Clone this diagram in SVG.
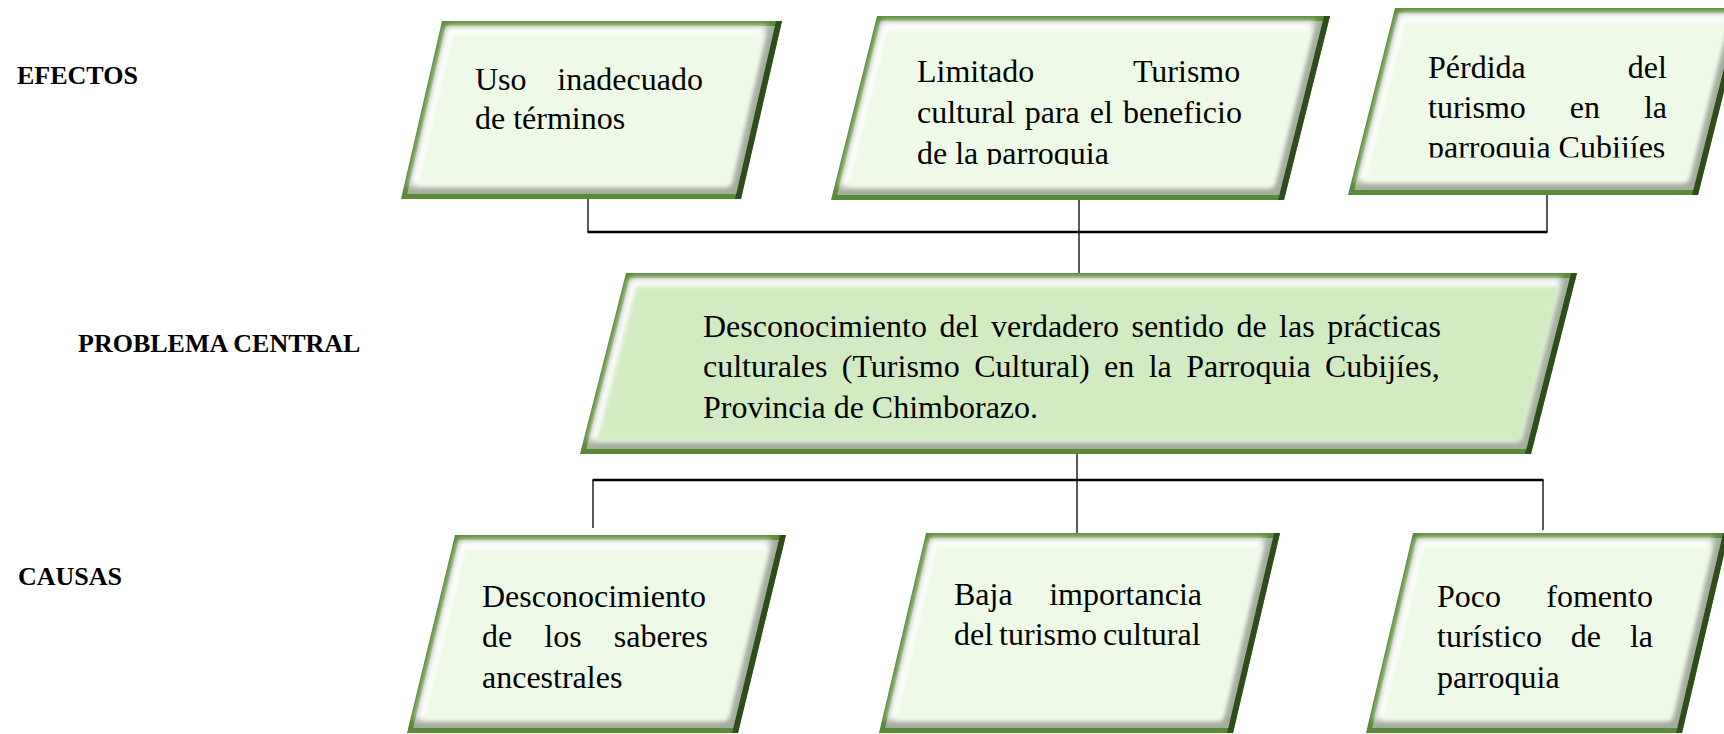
<svg xmlns="http://www.w3.org/2000/svg" width="1724" height="734" viewBox="0 0 1724 734">
<defs>
  <filter id="b2" x="-10%" y="-10%" width="120%" height="120%"><feGaussianBlur stdDeviation="2"/></filter>
  <filter id="b3" x="-10%" y="-10%" width="120%" height="120%"><feGaussianBlur stdDeviation="3"/></filter>
  <clipPath id="clip2"><rect x="800" y="0" width="600" height="165"/></clipPath>
  <clipPath id="clip3"><rect x="1340" y="0" width="384" height="157.5"/></clipPath>
</defs>
<style>
  .rim{fill:#5a8a37}
  .rimd{fill:#2f4c1c}
  .shade{fill:#a3ad9c}
  .hl{fill:#ffffff;filter:url(#b3)}
  .face{fill:#eefae7;filter:url(#b2)}
  .facec{fill:#d3ebc3;filter:url(#b2)}
  .t{font-family:"Liberation Serif","Times New Roman",serif;font-size:32px;fill:#000}
  .lbl{font-family:"Liberation Serif","Times New Roman",serif;font-size:26px;font-weight:bold;fill:#000}
  .c{stroke:#000;stroke-width:1.3;fill:none}
  .bus{stroke:#000;stroke-width:2.5;fill:none}
</style>
<rect width="1724" height="734" fill="#ffffff"/>

<g id="labels">
  <text class="lbl" x="17" y="84">EFECTOS</text>
  <text class="lbl" x="78" y="352">PROBLEMA CENTRAL</text>
  <text class="lbl" x="18" y="585">CAUSAS</text>
</g>

<g id="connectors">
  <line class="c" x1="588" y1="199" x2="588" y2="232"/>
  <line class="c" x1="1547" y1="195" x2="1547" y2="232"/>
  <line class="c" x1="1079" y1="200" x2="1079" y2="275"/>
  <line class="bus" x1="587.5" y1="232" x2="1547.5" y2="232"/>
  <line class="c" x1="1077" y1="452" x2="1077" y2="535"/>
  <line class="bus" x1="592.5" y1="480" x2="1543.5" y2="480"/>
  <line class="c" x1="593" y1="480" x2="593" y2="528"/>
  <line class="c" x1="1543" y1="480" x2="1543" y2="530"/>
</g>

<g id="efecto-1">
  <g transform="translate(401,199) skewX(-12.97)">
    <rect class="rim" x="0" y="-178" width="340" height="178"/>
    <rect class="rimd" x="334" y="-178" width="6" height="178"/>
    <rect class="shade" x="5" y="-173" width="329" height="168"/>
    <rect class="hl" x="5" y="-173" width="321" height="160"/>
    <rect class="face" x="13" y="-165" width="313" height="152"/>
  </g>
  <text class="t" x="475" y="90" style="word-spacing:22.7px">Uso inadecuado</text>
  <text class="t" x="475" y="129">de términos</text>
</g>

<g id="efecto-2">
  <g transform="translate(831,200) skewX(-14.04)">
    <rect class="rim" x="0" y="-184" width="453" height="184"/>
    <rect class="rimd" x="447" y="-184" width="6" height="184"/>
    <rect class="shade" x="5" y="-179" width="442" height="174"/>
    <rect class="hl" x="5" y="-179" width="434" height="166"/>
    <rect class="face" x="13" y="-171" width="426" height="158"/>
  </g>
  <g clip-path="url(#clip2)">
    <text class="t" x="917" y="82" style="word-spacing:91.2px">Limitado Turismo</text>
    <text class="t" x="917" y="123" style="word-spacing:2px">cultural para el beneficio</text>
    <text class="t" x="917" y="164">de la parroquia</text>
  </g>
</g>

<g id="efecto-3">
  <g transform="translate(1348,195) skewX(-14.11)">
    <rect class="rim" x="0" y="-187" width="350" height="187"/>
    <rect class="rimd" x="344" y="-187" width="6" height="187"/>
    <rect class="shade" x="5" y="-182" width="339" height="177"/>
    <rect class="hl" x="5" y="-182" width="331" height="169"/>
    <rect class="face" x="13" y="-174" width="323" height="161"/>
  </g>
  <g clip-path="url(#clip3)">
    <text class="t" x="1428" y="78" style="word-spacing:94.1px">Pérdida del</text>
    <text class="t" x="1428" y="118" style="word-spacing:35.95px">turismo en la</text>
    <text class="t" x="1428" y="158">parroquia Cubijíes</text>
  </g>
</g>

<g id="problema-central">
  <g transform="translate(580,454) skewX(-14.26)">
    <rect class="rim" x="0" y="-181" width="951" height="181"/>
    <rect class="rimd" x="945" y="-181" width="6" height="181"/>
    <rect class="shade" x="5" y="-176" width="940" height="171"/>
    <rect class="hl" x="5" y="-176" width="932" height="163"/>
    <rect class="facec" x="13" y="-168" width="924" height="155"/>
  </g>
  <text class="t" x="703" y="337" style="word-spacing:4.5px">Desconocimiento del verdadero sentido de las prácticas</text>
  <text class="t" x="703" y="377" style="word-spacing:6.4px">culturales (Turismo Cultural) en la Parroquia Cubijíes,</text>
  <text class="t" x="703" y="418">Provincia de Chimborazo.</text>
</g>

<g id="causa-1">
  <g transform="translate(407,733) skewX(-13.63)">
    <rect class="rim" x="0" y="-198" width="331" height="198"/>
    <rect class="rimd" x="325" y="-198" width="6" height="198"/>
    <rect class="shade" x="5" y="-193" width="320" height="188"/>
    <rect class="hl" x="5" y="-193" width="312" height="180"/>
    <rect class="face" x="13" y="-185" width="304" height="172"/>
  </g>
  <text class="t" x="482" y="607">Desconocimiento</text>
  <text class="t" x="482" y="647" style="word-spacing:24.15px">de los saberes</text>
  <text class="t" x="482" y="688">ancestrales</text>
</g>

<g id="causa-2">
  <g transform="translate(879,733) skewX(-13.23)">
    <rect class="rim" x="0" y="-200" width="354" height="200"/>
    <rect class="rimd" x="348" y="-200" width="6" height="200"/>
    <rect class="shade" x="5" y="-195" width="343" height="190"/>
    <rect class="hl" x="5" y="-195" width="335" height="182"/>
    <rect class="face" x="13" y="-187" width="327" height="174"/>
  </g>
  <text class="t" x="954" y="605" style="word-spacing:28.5px">Baja importancia</text>
  <text class="t" x="954" y="645" style="word-spacing:-2px">del turismo cultural</text>
</g>

<g id="causa-3">
  <g transform="translate(1366,733) skewX(-13.23)">
    <rect class="rim" x="0" y="-200" width="316" height="200"/>
    <rect class="rimd" x="310" y="-200" width="6" height="200"/>
    <rect class="shade" x="5" y="-195" width="305" height="190"/>
    <rect class="hl" x="5" y="-195" width="297" height="182"/>
    <rect class="face" x="13" y="-187" width="289" height="174"/>
  </g>
  <text class="t" x="1437" y="607" style="word-spacing:37.3px">Poco fomento</text>
  <text class="t" x="1437" y="647" style="word-spacing:20.9px">turístico de la</text>
  <text class="t" x="1437" y="688">parroquia</text>
</g>
</svg>
